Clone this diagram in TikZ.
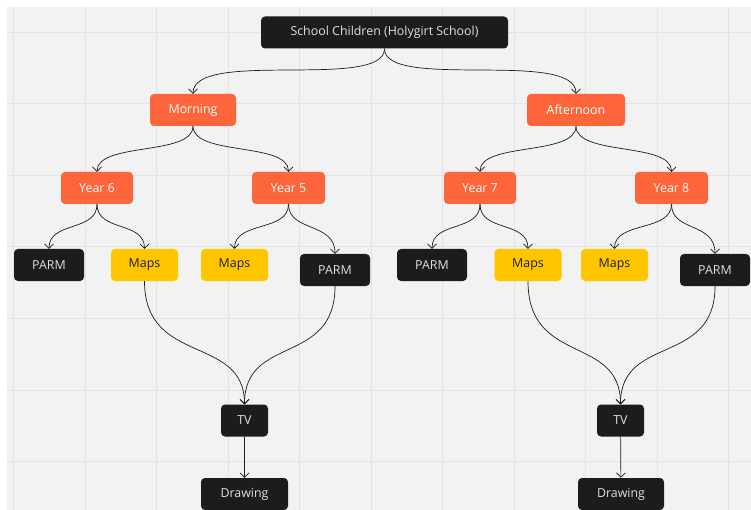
\documentclass[tikz,border=0pt]{standalone}
\usepackage{fontspec}
\setmainfont{Open Sans}
\usepackage{tikz}
\usetikzlibrary{arrows.meta}

\definecolor{board}{HTML}{F2F2F2}
\definecolor{gridline}{HTML}{E3E3E3}
\definecolor{darkbox}{HTML}{1C1C1C}
\definecolor{orangebox}{HTML}{FF653B}
\definecolor{yellowbox}{HTML}{FFC600}

\begin{document}
\begin{tikzpicture}[
 x=1pt,y=-1pt,
 box/.style={rounded corners=4pt,align=center,minimum height=32pt,inner sep=0pt,font=\fontsize{12.4}{14}\selectfont},
 dark/.style={box,fill=darkbox,text=white!88!black},
 group/.style={box,fill=orangebox,text=white},
 maps/.style={box,fill=yellowbox,text=darkbox,minimum width=67pt},
 parm/.style={dark,minimum width=70pt},
 arrow/.style={-{Straight Barb[length=4.5pt,width=9pt]},line width=0.7pt,draw=darkbox}]
\useasboundingbox (0,0) rectangle (751,510);
\fill[white] (0,0) rectangle (751,510);
\fill[board] (7,7) rectangle (751,510);
\foreach \gx in {0,...,10}
  \draw[gridline,line width=1pt] (13.5+71.5*\gx,7) -- (13.5+71.5*\gx,510);
\foreach \gy in {0,...,6}
  \draw[gridline,line width=1pt] (7,32.5+71.5*\gy) -- (751,32.5+71.5*\gy);
% top level
\node[dark,minimum width=247pt] (school) at (384.5,32.5) {School Children (Holygirt School)};
\node[group,minimum width=86pt] (morning) at (193,110) {Morning};
\node[group,minimum width=98pt] (afternoon) at (576,110) {Afternoon};
% years
\node[group,minimum width=72pt] (year6) at (97,188) {Year 6};
\node[group,minimum width=73pt] (year5) at (288.5,188) {Year 5};
\node[group,minimum width=72pt] (year7) at (480,188) {Year 7};
\node[group,minimum width=73pt] (year8) at (671.5,188) {Year 8};
% activities
\node[parm] (parm6) at (49,265) {PARM};
\node[maps] (maps6) at (144.5,265) {Maps};
\node[maps] (maps5) at (234.5,265) {Maps};
\node[parm] (parm5) at (335,270) {PARM};
\node[parm] (parm7) at (432,265) {PARM};
\node[maps] (maps7) at (528,265) {Maps};
\node[maps] (maps8) at (614.5,265) {Maps};
\node[parm] (parm8) at (715,270) {PARM};
% outputs
\node[dark,minimum width=47pt] (tvleft) at (244.5,420.5) {TV};
\node[dark,minimum width=87pt] (drawleft) at (244.5,494) {Drawing};
\node[dark,minimum width=47pt] (tvright) at (620.5,420.5) {TV};
\node[dark,minimum width=86pt] (drawright) at (621,494) {Drawing};
\draw[arrow] (school.south) .. controls +(0,42) and +(0,-45) .. (morning.north);
\draw[arrow] (school.south) .. controls +(0,42) and +(0,-45) .. (afternoon.north);
\draw[arrow] (morning.south) .. controls +(0,30) and +(0,-30) .. (year6.north);
\draw[arrow] (morning.south) .. controls +(0,30) and +(0,-30) .. (year5.north);
\draw[arrow] (afternoon.south) .. controls +(0,30) and +(0,-30) .. (year7.north);
\draw[arrow] (afternoon.south) .. controls +(0,30) and +(0,-30) .. (year8.north);
\draw[arrow] (year6.south) .. controls +(0,28) and +(0,-28) .. (parm6.north);
\draw[arrow] (year6.south) .. controls +(0,28) and +(0,-28) .. (maps6.north);
\draw[arrow] (year5.south) .. controls +(0,28) and +(0,-28) .. (maps5.north);
\draw[arrow] (year5.south) .. controls +(0,28) and +(0,-32) .. (parm5.north);
\draw[arrow] (year7.south) .. controls +(0,28) and +(0,-28) .. (parm7.north);
\draw[arrow] (year7.south) .. controls +(0,28) and +(0,-28) .. (maps7.north);
\draw[arrow] (year8.south) .. controls +(0,28) and +(0,-28) .. (maps8.north);
\draw[arrow] (year8.south) .. controls +(0,28) and +(0,-32) .. (parm8.north);
\draw[arrow] (maps6.south) .. controls +(0,85) and +(0,-70) .. (tvleft.north);
\draw[arrow] (parm5.south) .. controls +(0,80) and +(0,-70) .. (tvleft.north);
\draw[arrow] (maps7.south) .. controls +(0,85) and +(0,-70) .. (tvright.north);
\draw[arrow] (parm8.south) .. controls +(0,80) and +(0,-70) .. (tvright.north);
\draw[arrow] (tvleft) -- (drawleft);
\draw[arrow] (tvright) -- (drawright);
\end{tikzpicture}
\end{document}
